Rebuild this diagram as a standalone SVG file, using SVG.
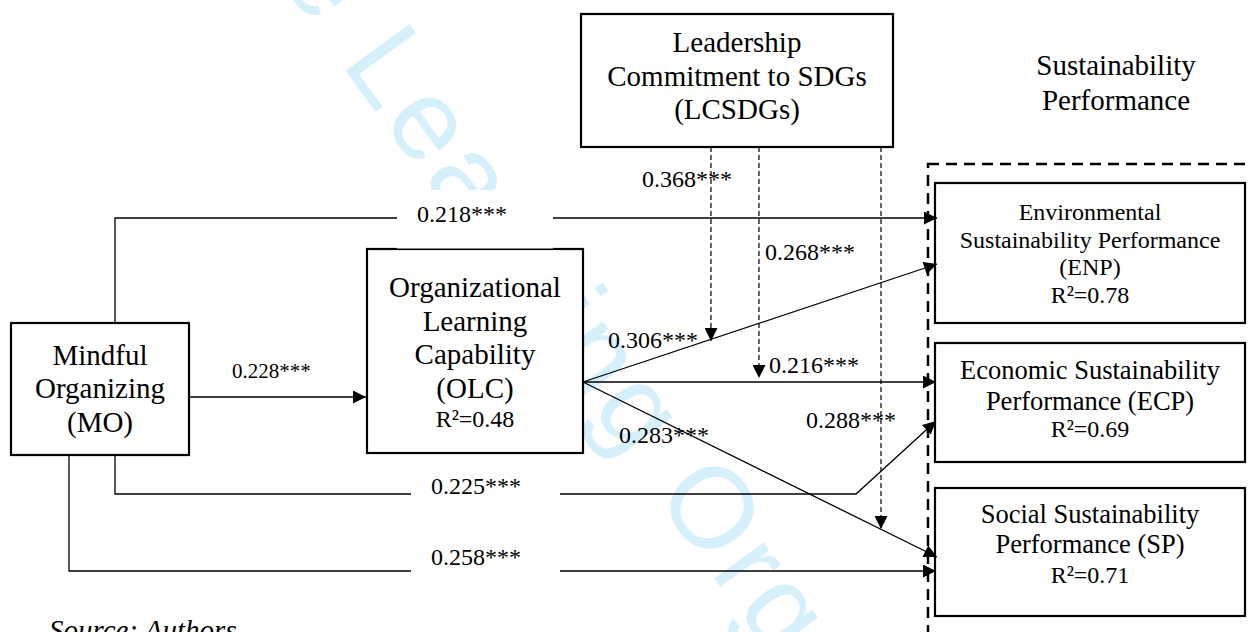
<svg xmlns="http://www.w3.org/2000/svg" width="1252" height="632" viewBox="0 0 1252 632">
<style>
.box{fill:#fff;stroke:#000;stroke-width:2.2}
.t{font-family:"Liberation Serif","Times New Roman",serif;fill:#000;text-anchor:middle}
.big{font-size:29px}
.mid{font-size:26.5px}
.sm{font-size:24px}
.lbl{font-family:"Liberation Serif","Times New Roman",serif;font-size:24px;fill:#000}
.ln{fill:none;stroke:#000;stroke-width:1.3}
.dash{fill:none;stroke:#000;stroke-width:1.2;stroke-dasharray:5 3}
.bg{fill:#fff;stroke:none}
.wm{font-family:"Liberation Sans",Arial,sans-serif;font-size:115px;fill:#d5effb;letter-spacing:6px}
</style>
<defs>
<marker id="ah" viewBox="0 0 10 10" refX="10" refY="5" markerUnits="userSpaceOnUse" markerWidth="15" markerHeight="13" orient="auto"><path d="M0,0 L10,5 L0,10 z" fill="#000"/></marker>
<marker id="ahs" viewBox="0 0 10 10" refX="10" refY="5" markerUnits="userSpaceOnUse" markerWidth="14" markerHeight="13" orient="auto"><path d="M0,0 L10,5 L0,10 z" fill="#000"/></marker>
</defs>
<rect width="1252" height="632" fill="#fff"/>
<g id="watermark"><text class="wm" transform="translate(340,63) rotate(54)" x="-254" y="0">The Learning Organization</text></g>
<g id="container"><rect x="928" y="164" width="400" height="520" fill="none" stroke="#000" stroke-width="2.5" stroke-dasharray="11 7"/></g>
<g id="title-sp"><text class="t big"><tspan x="1116" y="75">Sustainability</tspan><tspan x="1116" y="110">Performance</tspan></text></g>
<g id="node-lcsdgs"><rect class="box" x="581" y="14" width="312" height="133"/><text class="t big"><tspan x="737" y="52">Leadership</tspan><tspan x="737" y="86">Commitment to SDGs</tspan><tspan x="737" y="119">(LCSDGs)</tspan></text></g>
<g id="node-mo"><rect class="box" x="11" y="323" width="178" height="132"/><text class="t big"><tspan x="100" y="365">Mindful</tspan><tspan x="100" y="398">Organizing</tspan><tspan x="100" y="432">(MO)</tspan></text></g>
<g id="node-olc"><rect class="box" x="367" y="249" width="216" height="204"/><text class="t big"><tspan x="475" y="297">Organizational</tspan><tspan x="475" y="331">Learning</tspan><tspan x="475" y="364">Capability</tspan><tspan x="475" y="398">(OLC)</tspan></text><text class="t sm" x="475" y="427">R²=0.48</text></g>
<g id="node-enp"><rect class="box" x="935" y="183" width="310" height="140"/><text class="t sm"><tspan x="1090" y="220">Environmental</tspan><tspan x="1090" y="248">Sustainability Performance</tspan><tspan x="1090" y="275">(ENP)</tspan><tspan x="1090" y="303">R²=0.78</tspan></text></g>
<g id="node-ecp"><rect class="box" x="935" y="343" width="310" height="119"/><text class="t mid"><tspan x="1090" y="379">Economic Sustainability</tspan><tspan x="1090" y="410">Performance (ECP)</tspan></text><text class="t sm" x="1090" y="437">R²=0.69</text></g>
<g id="node-sp"><rect class="box" x="935" y="488" width="310" height="128"/><text class="t mid"><tspan x="1090" y="523">Social Sustainability</tspan><tspan x="1090" y="553">Performance (SP)</tspan></text><text class="t sm" x="1090" y="583">R²=0.71</text></g>
<g id="connectors">
<path class="ln" d="M115,323 V218 H937" marker-end="url(#ah)"/>
<path class="ln" d="M189,397 H366" marker-end="url(#ah)"/>
<path class="ln" d="M115,455 V494 H856 L936,421" marker-end="url(#ah)"/>
<path class="ln" d="M69,455 V571 H936" marker-end="url(#ah)"/>
<path class="ln" d="M583,382 L937,264" marker-end="url(#ah)"/>
<path class="ln" d="M583,382 H936" marker-end="url(#ah)"/>
<path class="ln" d="M583,382 L937,557" marker-end="url(#ah)"/>
<path class="dash" d="M711,147 V341" marker-end="url(#ahs)"/>
<path class="dash" d="M759,147 V378" marker-end="url(#ahs)"/>
<path class="dash" d="M881,147 V529" marker-end="url(#ahs)"/>
<rect class="bg" x="397" y="190" width="156" height="58.5"/>
<rect class="bg" x="411" y="470" width="149" height="34"/>
<rect class="bg" x="411" y="545" width="149" height="34"/>
<text class="lbl" x="417" y="222">0.218***</text>
<text class="lbl" x="232" y="378" style="font-size:21px">0.228***</text>
<text class="lbl" x="431" y="494">0.225***</text>
<text class="lbl" x="431" y="565">0.258***</text>
<text class="lbl" x="608" y="348">0.306***</text>
<text class="lbl" x="769" y="373">0.216***</text>
<text class="lbl" x="619" y="443">0.283***</text>
<text class="lbl" x="806" y="428">0.288***</text>
<text class="lbl" x="642" y="187">0.368***</text>
<text class="lbl" x="765" y="260">0.268***</text>
</g>
<g id="source"><text x="49" y="640" style="font-family:'Liberation Serif','Times New Roman',serif;font-size:29px;font-style:italic">Source: Authors</text></g>
</svg>
